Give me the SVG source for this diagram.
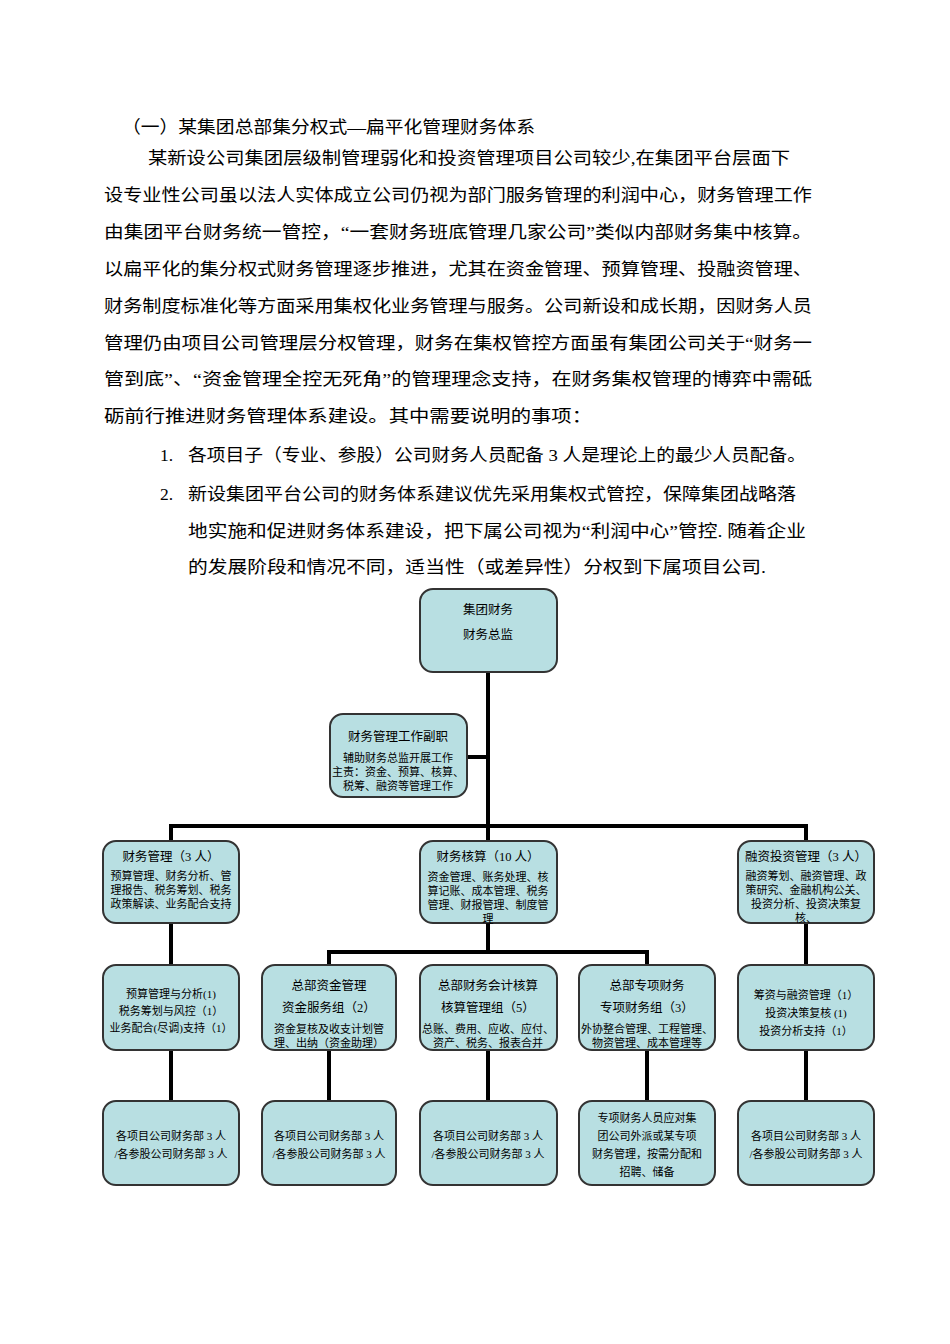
<svg xmlns="http://www.w3.org/2000/svg" width="950" height="1344" viewBox="0 0 950 1344">
<style>
.p{font-family:"Liberation Serif","Noto Sans CJK SC",serif;font-size:17.5px;fill:#000}
.b rect{fill:#b8dfe2;stroke:#333;stroke-width:2}
.b text{font-family:"Liberation Serif","Noto Sans CJK SC",serif;fill:#000;text-anchor:middle}
.t{font-size:12.5px}.s{font-size:11px}
#conn path{stroke:#000;stroke-width:4;fill:none}
</style>
<rect width="950" height="1344" fill="#fff"/>
<g id="text">
<text class="p" x="122" y="133" textLength="413" lengthAdjust="spacingAndGlyphs">（一）某集团总部集分权式—扁平化管理财务体系</text>
<text class="p" x="148" y="164" textLength="642" lengthAdjust="spacingAndGlyphs">某新设公司集团层级制管理弱化和投资管理项目公司较少,在集团平台层面下</text>
<text class="p" x="104" y="201" textLength="708" lengthAdjust="spacingAndGlyphs">设专业性公司虽以法人实体成立公司仍视为部门服务管理的利润中心，财务管理工作</text>
<text class="p" x="104" y="238" textLength="708" lengthAdjust="spacingAndGlyphs">由集团平台财务统一管控，“一套财务班底管理几家公司”类似内部财务集中核算。</text>
<text class="p" x="104" y="275" textLength="708" lengthAdjust="spacingAndGlyphs">以扁平化的集分权式财务管理逐步推进，尤其在资金管理、预算管理、投融资管理、</text>
<text class="p" x="104" y="312" textLength="708" lengthAdjust="spacingAndGlyphs">财务制度标准化等方面采用集权化业务管理与服务。公司新设和成长期，因财务人员</text>
<text class="p" x="104" y="349" textLength="708" lengthAdjust="spacingAndGlyphs">管理仍由项目公司管理层分权管理，财务在集权管控方面虽有集团公司关于“财务一</text>
<text class="p" x="104" y="385" textLength="708" lengthAdjust="spacingAndGlyphs">管到底”、“资金管理全控无死角”的管理理念支持，在财务集权管理的博弈中需砥</text>
<text class="p" x="104" y="422" textLength="488" lengthAdjust="spacingAndGlyphs">砺前行推进财务管理体系建设。其中需要说明的事项：</text>
<text class="p" x="160" y="461">1.</text>
<text class="p" x="188" y="461" textLength="618" lengthAdjust="spacingAndGlyphs">各项目子（专业、参股）公司财务人员配备 3 人是理论上的最少人员配备。</text>
<text class="p" x="160" y="500">2.</text>
<text class="p" x="188" y="500" textLength="608" lengthAdjust="spacingAndGlyphs">新设集团平台公司的财务体系建议优先采用集权式管控，保障集团战略落</text>
<text class="p" x="188" y="537" textLength="618" lengthAdjust="spacingAndGlyphs">地实施和促进财务体系建设，把下属公司视为“利润中心”管控. 随着企业</text>
<text class="p" x="188" y="573" textLength="578" lengthAdjust="spacingAndGlyphs">的发展阶段和情况不同，适当性（或差异性）分权到下属项目公司.</text>
</g>
<g id="conn">
<path d="M488 672V841M467 757H488M171 841V826H806V841M488 923V952M329 965V952H647V965M171 923V965M806 923V965M171 1050V1101M329 1050V1101M488 1050V1101M647 1050V1101M806 1050V1101"/>
</g>
<g id="n0" class="b"><rect x="420" y="589" width="137" height="83" rx="13"/><text class="t" x="488" y="614">集团财务</text><text class="t" x="488" y="639">财务总监</text></g>
<g id="n1" class="b"><rect x="330" y="714" width="137" height="83" rx="13"/><text class="t" x="398" y="741">财务管理工作副职</text><text class="s" x="398" y="762">辅助财务总监开展工作</text><text class="s" x="398" y="776">主责：资金、预算、核算、</text><text class="s" x="398" y="790">税筹、融资等管理工作</text></g>
<g id="n2" class="b"><rect x="103" y="841" width="136" height="82" rx="13"/><text class="t" x="171" y="861">财务管理（3 人）</text><text class="s" x="171" y="880">预算管理、财务分析、管</text><text class="s" x="171" y="894">理报告、税务筹划、税务</text><text class="s" x="171" y="908">政策解读、业务配合支持</text></g>
<g id="n3" class="b"><rect x="420" y="841" width="137" height="82" rx="13"/><text class="t" x="488" y="861">财务核算（10 人）</text><text class="s" x="488" y="881">资金管理、账务处理、核</text><text class="s" x="488" y="895">算记账、成本管理、税务</text><text class="s" x="488" y="909">管理、财报管理、制度管</text><text class="s" x="488" y="923">理</text></g>
<g id="n4" class="b"><rect x="738" y="841" width="136" height="82" rx="13"/><text class="t" x="806" y="861">融资投资管理（3 人）</text><text class="s" x="806" y="880">融资筹划、融资管理、政</text><text class="s" x="806" y="894">策研究、金融机构公关、</text><text class="s" x="806" y="908">投资分析、投资决策复</text><text class="s" x="806" y="922">核、</text></g>
<g id="n5" class="b"><rect x="103" y="965" width="136" height="85" rx="13"/><text class="s" x="171" y="998">预算管理与分析(1)</text><text class="s" x="171" y="1015">税务筹划与风控（1）</text><text class="s" x="171" y="1032">业务配合(尽调)支持（1）</text></g>
<g id="n6" class="b"><rect x="262" y="965" width="134" height="85" rx="13"/><text class="t" x="329" y="990">总部资金管理</text><text class="t" x="329" y="1012">资金服务组（2）</text><text class="s" x="329" y="1033">资金复核及收支计划管</text><text class="s" x="329" y="1047">理、出纳（资金助理）</text></g>
<g id="n7" class="b"><rect x="420" y="965" width="137" height="85" rx="13"/><text class="t" x="488" y="990">总部财务会计核算</text><text class="t" x="488" y="1012">核算管理组（5）</text><text class="s" x="488" y="1033">总账、费用、应收、应付、</text><text class="s" x="488" y="1047">资产、税务、报表合并</text></g>
<g id="n8" class="b"><rect x="579" y="965" width="136" height="85" rx="13"/><text class="t" x="647" y="990">总部专项财务</text><text class="t" x="647" y="1012">专项财务组（3）</text><text class="s" x="647" y="1033">外协整合管理、工程管理、</text><text class="s" x="647" y="1047">物资管理、成本管理等</text></g>
<g id="n9" class="b"><rect x="738" y="965" width="136" height="85" rx="13"/><text class="s" x="806" y="999">筹资与融资管理（1）</text><text class="s" x="806" y="1017">投资决策复核 (1)</text><text class="s" x="806" y="1035">投资分析支持（1）</text></g>
<g id="n10" class="b"><rect x="103" y="1101" width="136" height="84" rx="13"/><text class="s" x="171" y="1140">各项目公司财务部 3 人</text><text class="s" x="171" y="1158">/各参股公司财务部 3 人</text></g>
<g id="n11" class="b"><rect x="262" y="1101" width="134" height="84" rx="13"/><text class="s" x="329" y="1140">各项目公司财务部 3 人</text><text class="s" x="329" y="1158">/各参股公司财务部 3 人</text></g>
<g id="n12" class="b"><rect x="420" y="1101" width="137" height="84" rx="13"/><text class="s" x="488" y="1140">各项目公司财务部 3 人</text><text class="s" x="488" y="1158">/各参股公司财务部 3 人</text></g>
<g id="n13" class="b"><rect x="579" y="1101" width="136" height="84" rx="13"/><text class="s" x="647" y="1122">专项财务人员应对集</text><text class="s" x="647" y="1140">团公司外派或某专项</text><text class="s" x="647" y="1158">财务管理，按需分配和</text><text class="s" x="647" y="1176">招聘、储备</text></g>
<g id="n14" class="b"><rect x="738" y="1101" width="136" height="84" rx="13"/><text class="s" x="806" y="1140">各项目公司财务部 3 人</text><text class="s" x="806" y="1158">/各参股公司财务部 3 人</text></g>
</svg>
